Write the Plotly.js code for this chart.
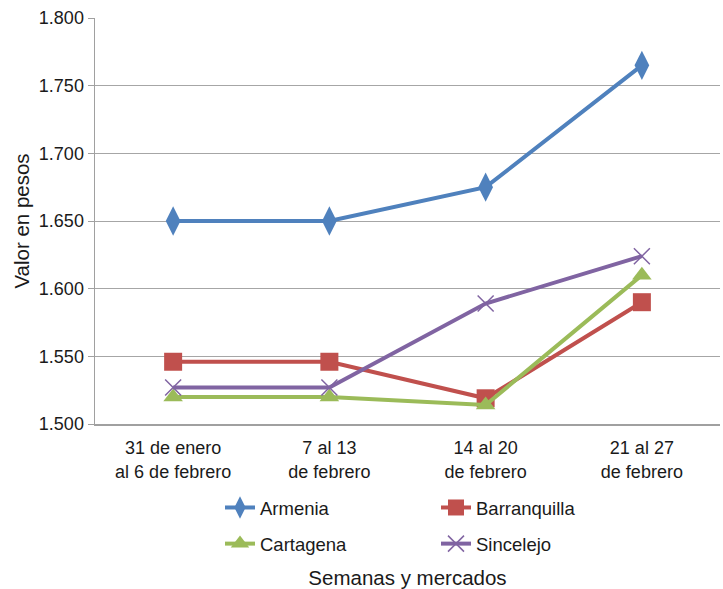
<!DOCTYPE html>
<html>
<head>
<meta charset="utf-8">
<script src="https://cdn.plot.ly/plotly-3.0.1.min.js"></script>
<style>html,body{margin:0;padding:0;background:#fff;}#chart{width:723px;height:589px;}</style>
</head>
<body>
<div id="chart"></div>
<script>
const categories = ["31 de enero<br>al 6 de febrero", "7 al 13<br>de febrero", "14 al 20<br>de febrero", "21 al 27<br>de febrero"];
const armenia = [1650, 1650, 1675, 1765];
const barranquilla = [1546, 1546, 1519, 1590];
const cartagena = [1520, 1520, 1514, 1610];
const sincelejo = [1527, 1527, 1589, 1624];
const yTicks = [1500, 1550, 1600, 1650, 1700, 1750, 1800];

const font = "Liberation Sans, Arial, sans-serif";

function series(name, y, color, symbol, size, legendId, extra) {
  return {
    type: "scatter", mode: "lines+markers", name: name,
    x: categories, y: y, legend: legendId,
    line: {color: color, width: 4},
    marker: Object.assign({color: color, symbol: symbol, size: size}, extra || {})
  };
}

const data = [
  series("Armenia", armenia, "#4F81BD", "diamond-tall", 21, "legend"),
  series("Barranquilla", barranquilla, "#C0504D", "square", 18, "legend"),
  series("Cartagena", cartagena, "#9BBB59", "triangle-up", 17, "legend2"),
  series("Sincelejo", sincelejo, "#8064A2", "x-thin-open", 16, "legend2", {line: {color: "#8064A2", width: 1.5}})
];

const legendBase = {
  orientation: "h", x: 0.2, xanchor: "left", yanchor: "top",
  entrywidth: 171, entrywidthmode: "pixels",
  font: {family: font, size: 18.5, color: "#1a1a1a"},
  traceorder: "normal"
};

const layout = {
  width: 723, height: 589,
  margin: {l: 95, r: 3, t: 18, b: 165},
  paper_bgcolor: "#fff", plot_bgcolor: "#fff",
  separators: ",.",
  font: {family: font, size: 18, color: "#1a1a1a"},
  showlegend: true,
  legend: Object.assign({}, legendBase, {y: -0.160}),
  legend2: Object.assign({}, legendBase, {y: -0.249}),
  xaxis: {
    type: "category", range: [-0.5, 3.5],
    showgrid: false, showline: true, linecolor: "#a0a0a0", linewidth: 1.5,
    ticks: "", ticklabelstandoff: 7,
    tickfont: {family: font, size: 18, color: "#1a1a1a"},
    title: {text: "Semanas y mercados", font: {family: font, size: 20.5, color: "#1a1a1a"}, standoff: 90},
    automargin: false, zeroline: false
  },
  yaxis: {
    range: [1500, 1800], tickvals: yTicks, tickformat: ",.0f",
    showgrid: true, gridcolor: "#a6a6a6", gridwidth: 1,
    showline: true, linecolor: "#a0a0a0", linewidth: 1.5,
    ticks: "outside", ticklen: 6, tickcolor: "#a0a0a0", tickwidth: 1,
    tickfont: {family: font, size: 18, color: "#1a1a1a"},
    title: {text: "Valor en pesos", font: {family: font, size: 20.5, color: "#1a1a1a"}, standoff: 3},
    automargin: false, zeroline: false
  }
};

Plotly.newPlot("chart", data, layout, {displayModeBar: false, staticPlot: true});
</script>
</body>
</html>
